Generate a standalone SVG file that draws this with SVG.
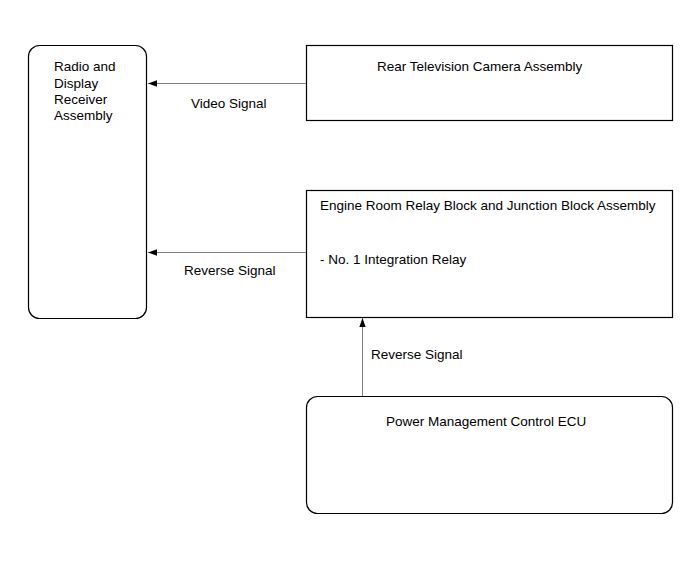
<svg xmlns="http://www.w3.org/2000/svg" width="691" height="564" viewBox="0 0 691 564">
<style>
.box{fill:#fff;stroke:#000;stroke-width:1.2}
.t{font-family:"Liberation Sans",Arial,sans-serif;font-size:13.5px;fill:#000}
.c{stroke:#808080;stroke-width:1;fill:none}
</style>
<defs>
<marker id="ah" viewBox="0 0 10 10" refX="10" refY="5" markerWidth="9" markerHeight="9" markerUnits="userSpaceOnUse" orient="auto">
<path d="M0,1.5 L10,5 L0,8.5 Z" fill="#000"/>
</marker>
</defs>
<rect width="691" height="564" fill="#fff"/>
<g id="radio">
<rect class="box" x="28.5" y="45.5" width="118" height="273" rx="11"/>
<text class="t" x="54" y="71">Radio and</text>
<text class="t" x="54" y="88">Display</text>
<text class="t" x="54" y="104">Receiver</text>
<text class="t" x="54" y="120">Assembly</text>
</g>
<g id="camera">
<rect class="box" x="306.5" y="45.5" width="366" height="75"/>
<text class="t" x="377" y="71">Rear Television Camera Assembly</text>
</g>
<g id="relay">
<rect class="box" x="306.5" y="190.5" width="366" height="127"/>
<text class="t" x="320" y="210">Engine Room Relay Block and Junction Block Assembly</text>
<text class="t" x="320" y="264">- No. 1 Integration Relay</text>
</g>
<g id="ecu">
<rect class="box" x="306.5" y="396.5" width="366" height="117" rx="11"/>
<text class="t" x="386" y="426">Power Management Control ECU</text>
</g>
<g id="connectors">
<line class="c" x1="306" y1="83.5" x2="148" y2="83.5" marker-end="url(#ah)"/>
<line class="c" x1="306" y1="252.5" x2="148" y2="252.5" marker-end="url(#ah)"/>
<line class="c" x1="362.5" y1="396" x2="362.5" y2="318" marker-end="url(#ah)"/>
<text class="t" x="191" y="108">Video Signal</text>
<text class="t" x="184" y="275">Reverse Signal</text>
<text class="t" x="371" y="359">Reverse Signal</text>
</g>
</svg>
